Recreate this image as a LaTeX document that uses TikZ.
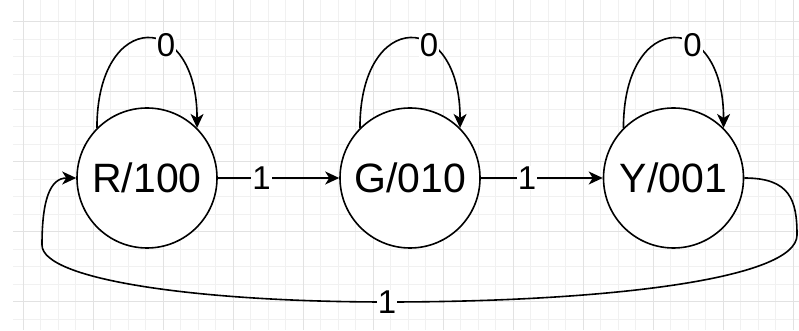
\documentclass[tikz,border=0pt]{standalone}
\usepackage{fontspec}
\setmainfont{Liberation Sans}
\usetikzlibrary{arrows.meta}
\definecolor{gridminor}{HTML}{F1F1F1}
\definecolor{gridmajor}{HTML}{E2E2E2}

\begin{document}
\begin{tikzpicture}[x=1pt, y=1pt,
		st/.style = {circle, draw, line width=1.6pt, fill=white, minimum size=140pt, inner sep=0pt, font=\fontsize{41}{48}\selectfont},
		r/.style = {-{Stealth[length=14pt, width=13pt, inset=4pt]}, line width=1.6pt},
		lbl/.style = {fill=white, inner sep=1pt, font=\fontsize{33}{38}\selectfont},
		gmin/.style = {draw=gridminor, line width=0.8pt},
		gmaj/.style = {draw=gridmajor, line width=0.8pt},
		]
		\useasboundingbox (0,0) rectangle (799,331);
		
		%Grid
		\foreach \x in {23.3,40.8,...,799} \draw[gmin] (\x,1) -- (\x,331);
		\foreach \y in {309.3,291.8,...,0} \draw[gmin] (13,\y) -- (799,\y);
		\foreach \x in {23.3,93.3,...,799} \draw[gmaj] (\x,1) -- (\x,331);
		\foreach \y in {309.3,239.3,...,0} \draw[gmaj] (13,\y) -- (799,\y);
		
		%Nodes
		\node[st]	(R)	at	(147, 153)	{R/100};
		\node[st]	(G)	at	(410, 153)	{G/010};
		\node[st]	(Y)	at	(673.5, 153)	{Y/001};
		
		%Lines
		\draw[r]	(R.east)	to	node[lbl, pos=0.36]	{1}	(G.west);
		\draw[r]	(G.east)	to	node[lbl, pos=0.38]	{1}	(Y.west);
		\draw[r]	(R.135)	.. controls +(0,119) and +(0,119) ..	node[lbl, pos=0.63]	{0}	(R.45);
		\draw[r]	(G.135)	.. controls +(0,119) and +(0,119) ..	node[lbl, pos=0.63]	{0}	(G.45);
		\draw[r]	(Y.135)	.. controls +(0,119) and +(0,119) ..	node[lbl, pos=0.63]	{0}	(Y.45);
		\draw[r]	(Y.east)	.. controls (790, 153) and (797, 131) .. (797, 96)
					.. controls (797, 51) and (600, 29) .. (387, 29) node[lbl] {1}
					.. controls (200, 29) and (42, 51) .. (42, 86)
					.. controls (42, 131) and (50, 153) .. (R.west);
	\end{tikzpicture}
\end{document}
